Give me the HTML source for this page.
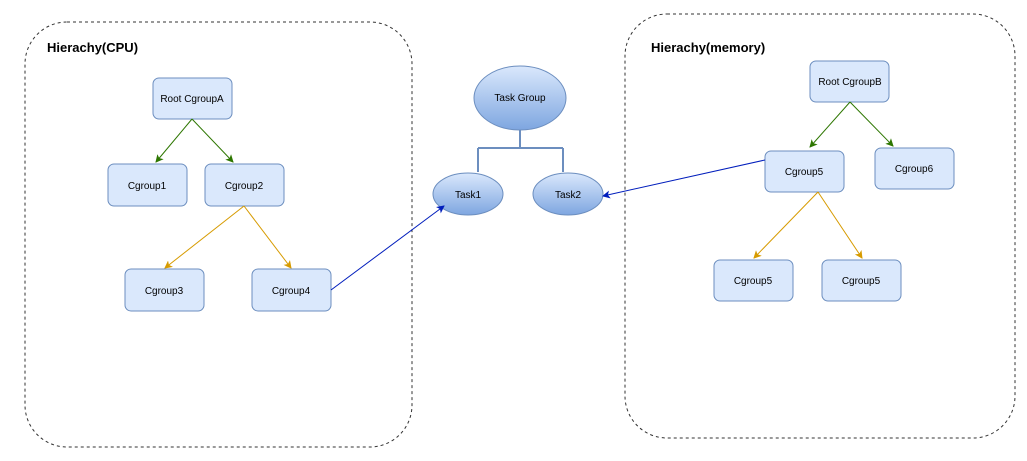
<!DOCTYPE html>
<html><head><style>body{margin:0;background:#fff}svg{display:block}text{font-family:"Liberation Sans",sans-serif}</style></head><body>
<svg width="1027" height="461" viewBox="0 0 1027 461">
<defs>
<linearGradient id="g" x1="0" y1="0" x2="0" y2="1"><stop offset="0" stop-color="#dae8fc"/><stop offset="1" stop-color="#7ea6e0"/></linearGradient>
<marker id="ag" markerWidth="8" markerHeight="8" refX="7" refY="4" orient="auto" markerUnits="userSpaceOnUse"><path d="M0,0 L8,4 L0,8 L2,4z" fill="#2d7600"/></marker>
<marker id="ao" markerWidth="8" markerHeight="8" refX="7" refY="4" orient="auto" markerUnits="userSpaceOnUse"><path d="M0,0 L8,4 L0,8 L2,4z" fill="#d79b00"/></marker>
<marker id="ab" markerWidth="8" markerHeight="8" refX="7" refY="4" orient="auto" markerUnits="userSpaceOnUse"><path d="M0,0 L8,4 L0,8 L2,4z" fill="#001dbc"/></marker>
</defs>
<rect x="25" y="22" width="387" height="425" rx="42" fill="none" stroke="#333" stroke-dasharray="3,3"/>
<rect x="625" y="14" width="390" height="424" rx="42" fill="none" stroke="#333" stroke-dasharray="3,3"/>
<text x="47" y="52" font-size="13" font-weight="bold">Hierachy(CPU)</text>
<text x="651" y="52" font-size="13" font-weight="bold">Hierachy(memory)</text>
<g fill="#dae8fc" stroke="#6c8ebf">
<rect x="153" y="78" width="79" height="41" rx="6"/>
<rect x="108" y="164" width="79" height="42" rx="6"/>
<rect x="205" y="164" width="79" height="42" rx="6"/>
<rect x="125" y="269" width="79" height="42" rx="6"/>
<rect x="252" y="269" width="79" height="42" rx="6"/>
<rect x="810" y="61" width="79" height="41" rx="6"/>
<rect x="765" y="151" width="79" height="41" rx="6"/>
<rect x="875" y="148" width="79" height="41" rx="6"/>
<rect x="714" y="260" width="79" height="41" rx="6"/>
<rect x="822" y="260" width="79" height="41" rx="6"/>
</g>
<g fill="url(#g)" stroke="#6c8ebf">
<ellipse cx="520" cy="98" rx="46" ry="32"/>
<ellipse cx="468" cy="194" rx="35" ry="21"/>
<ellipse cx="568" cy="194" rx="35" ry="21"/>
</g>
<path d="M520,130 V148 M478,148 H563 M478,148 V172 M563,148 V172" stroke="#6c8ebf" stroke-width="2" fill="none"/>
<g stroke="#2d7600" fill="none" marker-end="url(#ag)">
<line x1="192" y1="119" x2="156" y2="162"/><line x1="192" y1="119" x2="233" y2="162"/>
<line x1="850" y1="102" x2="810" y2="147"/><line x1="850" y1="102" x2="893" y2="146"/>
</g>
<g stroke="#d79b00" fill="none" marker-end="url(#ao)">
<line x1="244" y1="206" x2="165" y2="268"/><line x1="244" y1="206" x2="291" y2="268"/>
<line x1="818" y1="192" x2="754" y2="258"/><line x1="818" y1="192" x2="862" y2="258"/>
</g>
<g stroke="#001dbc" fill="none" marker-end="url(#ab)">
<line x1="331" y1="290" x2="444" y2="206"/><line x1="765" y1="160" x2="603" y2="196"/>
</g>
<g font-size="10" text-anchor="middle" fill="#000">
<text x="192" y="102">Root CgroupA</text>
<text x="147" y="189">Cgroup1</text>
<text x="244" y="189">Cgroup2</text>
<text x="164" y="294">Cgroup3</text>
<text x="291" y="294">Cgroup4</text>
<text x="850" y="85">Root CgroupB</text>
<text x="804" y="175">Cgroup5</text>
<text x="914" y="172">Cgroup6</text>
<text x="753" y="284">Cgroup5</text>
<text x="861" y="284">Cgroup5</text>
<text x="520" y="101">Task Group</text>
<text x="468" y="198">Task1</text>
<text x="568" y="198">Task2</text>
</g>
</svg>
</body></html>
